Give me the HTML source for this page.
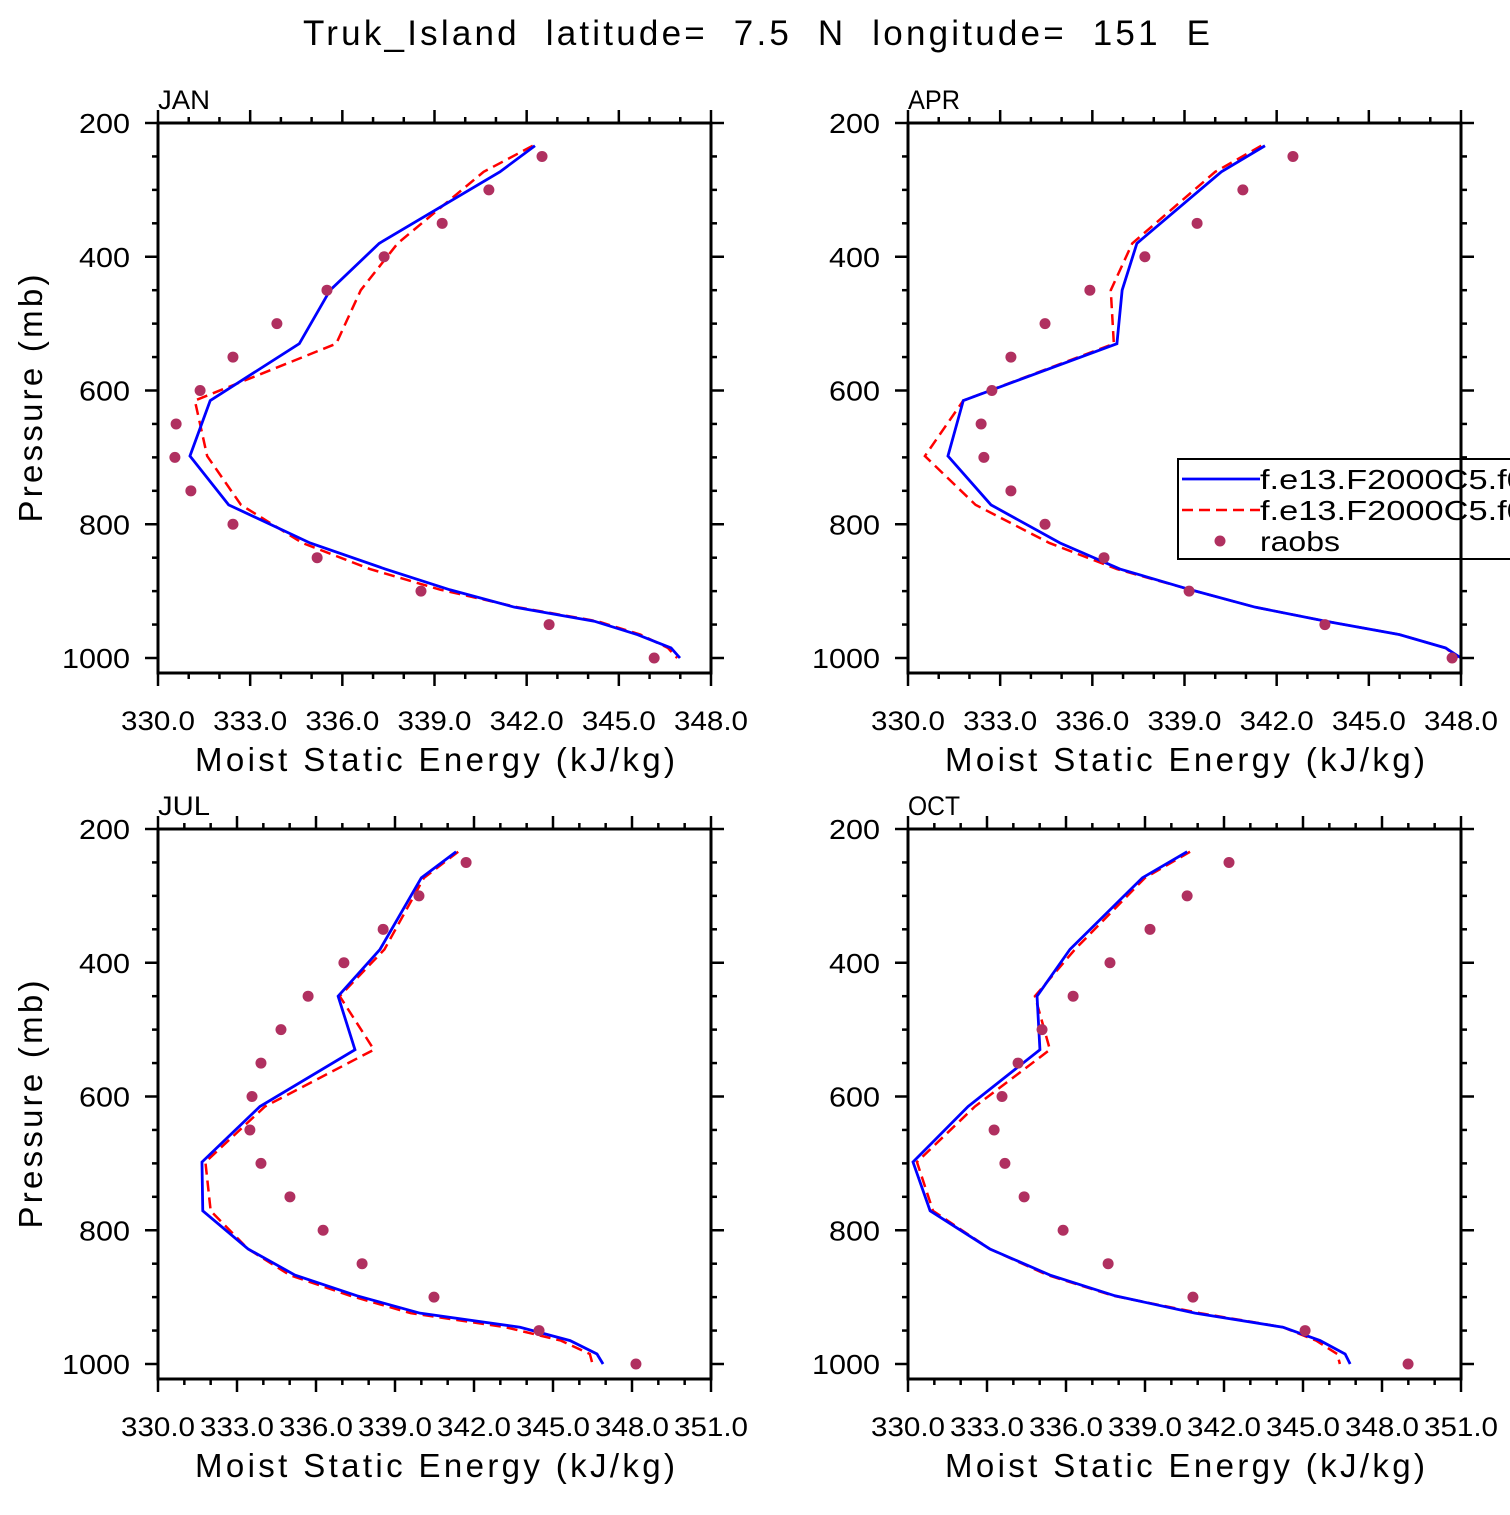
<!DOCTYPE html>
<html><head><meta charset="utf-8"><style>
html,body{margin:0;padding:0;background:#fff;}
svg text{font-family:"Liberation Sans","DejaVu Sans",sans-serif;fill:#000;}
</style></head><body>
<svg id="chart" width="1510" height="1510" viewBox="0 0 1510 1510" xmlns="http://www.w3.org/2000/svg">
<text x="303" y="45" font-size="35" textLength="907" lengthAdjust="spacing" xml:space="preserve">Truk_Island  latitude=  7.5  N  longitude=  151  E</text>
</svg>
<script>
const modelLevels=[234,273,380,450,530,615,698,771,828,867,898,924,945,965,985,1000];
const obsLevels=[250,300,350,400,450,500,550,600,650,700,750,800,850,900,950,1000];
const janBlue=[342.27,341.13,337.2,335.6,334.6,331.7,331.04,332.3,334.95,337.4,339.5,341.6,344.2,345.6,346.7,346.99];
const janRed=[342.2,340.6,337.8,336.6,335.8,331.2,331.6,332.7,334.7,336.9,339.2,341.7,344.3,345.7,346.6,346.9];
const janObs=[342.5,340.77,339.25,337.36,335.5,333.87,332.44,331.37,330.59,330.55,331.07,332.44,335.18,338.56,342.73,346.15];
const aprBlue=[341.62,340.2,337.45,336.97,336.8,331.8,331.3,332.7,334.95,336.9,339.2,341.3,343.6,346.0,347.5,348.0];
const aprRed=[341.5,340.0,337.3,336.6,336.7,331.8,330.55,332.2,334.6,336.8,339.2,341.3,343.6,346.0,347.5,347.9];
const aprObs=[342.53,340.9,339.41,337.71,335.92,334.46,333.35,332.73,332.38,332.47,333.35,334.46,336.38,339.15,343.57,347.71];
const julBlue=[341.32,340.0,338.43,336.84,337.48,333.87,331.67,331.7,333.42,335.2,337.56,339.95,343.75,345.65,346.67,346.9];
const julRed=[341.4,340.1,338.6,336.9,338.2,334.06,331.8,332.0,333.42,335.0,337.3,339.6,343.2,345.3,346.4,346.5];
const julObs=[341.7,339.91,338.55,337.06,335.7,334.67,333.91,333.57,333.49,333.91,335.01,336.27,337.75,340.48,344.47,348.15];
const octBlue=[340.6,338.9,336.15,334.9,335.01,332.28,330.19,330.84,333.11,335.39,337.86,340.9,344.24,345.65,346.6,346.79];
const octRed=[340.71,339.0,336.34,334.82,335.39,332.54,330.34,330.95,333.11,335.3,337.8,341.1,344.24,345.5,346.3,346.4];
const octObs=[342.19,340.6,339.19,337.67,336.27,335.09,334.18,333.57,333.27,333.68,334.41,335.89,337.6,340.82,345.08,348.99];
const pTicks=[200,400,600,800,1000];
const xTicksA=[330,333,336,339,342,345,348];
const xTicksB=[330,333,336,339,342,345,348,351];

const NS='http://www.w3.org/2000/svg';
const svg=document.getElementById('chart');
function mk(tag,attrs,parent){const e=document.createElementNS(NS,tag);for(const k in attrs)e.setAttribute(k,attrs[k]);(parent||svg).appendChild(e);return e;}

function panel(name,x0,y0,xmax,xTicks,blue,red,obs,isLeft){
  const W=553,yTop=y0,yBot=y0+550;
  const g=mk('g',{});
  
  
  const xs=v=>x0+(v-330)/(xmax-330)*W;
  const ys=p=>yTop+(p-200)*(535/800);
  const t=mk('text',{x:x0,y:yTop-14,'font-size':27,textLength:52,lengthAdjust:'spacingAndGlyphs'},g);t.textContent=name;
  
  for(let p=200;p<=1000;p+=50){
    const y=ys(p),maj=p%200===0,L=maj?13:6;
    mk('line',{x1:x0-L,y1:y,x2:x0,y2:y,stroke:'#000','stroke-width':2.5},g);
    mk('line',{x1:x0+W,y1:y,x2:x0+W+L,y2:y,stroke:'#000','stroke-width':2.5},g);
  }
  pTicks.forEach(p=>{const s=String(p);const tt=mk('text',{x:x0-28,y:ys(p)+10,'font-size':28,'text-anchor':'end',textLength:s.length*17,lengthAdjust:'spacingAndGlyphs'},g);tt.textContent=s;
    });
  for(let v=330;v<=xmax;v+=1){
    const x=xs(v),maj=(v-330)%3===0,L=maj?13:6;
    mk('line',{x1:x,y1:yBot,x2:x,y2:yBot+L,stroke:'#000','stroke-width':2.5},g);
    mk('line',{x1:x,y1:yTop-L,x2:x,y2:yTop,stroke:'#000','stroke-width':2.5},g);
  }
  xTicks.forEach(v=>{const tt=mk('text',{x:xs(v),y:yBot+57,'font-size':27,'text-anchor':'middle',textLength:74,lengthAdjust:'spacingAndGlyphs'},g);tt.textContent=v.toFixed(1);
    });
  const xl=mk('text',{x:x0+37,y:yBot+98,'font-size':33,textLength:480,lengthAdjust:'spacing'},g);xl.textContent='Moist Static Energy (kJ/kg)';
  
  if(isLeft){const yl=mk('text',{x:-124,y:0,'font-size':33,textLength:248,lengthAdjust:'spacing',transform:`translate(42,${ys(600)+8}) rotate(-90)`},g);yl.textContent='Pressure (mb)';
    }
  const bp=blue.map((v,i)=>xs(v)+','+ys(modelLevels[i])).join(' ');
  const rp=red.map((v,i)=>xs(v)+','+ys(modelLevels[i])).join(' ');
  const rl=mk('polyline',{points:rp,fill:'none',stroke:'#f00','stroke-width':2.5,'stroke-dasharray':'11,6'},g);
  
  const bl=mk('polyline',{points:bp,fill:'none',stroke:'#00f','stroke-width':2.8},g);
  
  obs.forEach((v,i)=>{const c=mk('circle',{cx:xs(v),cy:ys(obsLevels[i]),r:5.5,fill:'#b03060'},g);
    });
  mk('rect',{x:x0,y:yTop,width:W,height:yBot-yTop,fill:'none',stroke:'#000','stroke-width':3},g);
}
panel('JAN',158,123,348,xTicksA,janBlue,janRed,janObs,true);
panel('APR',908,123,348,xTicksA,aprBlue,aprRed,aprObs,false);
panel('JUL',158,829,351,xTicksB,julBlue,julRed,julObs,true);
panel('OCT',908,829,351,xTicksB,octBlue,octRed,octObs,false);

const lg=mk('g',{});


mk('rect',{x:1178,y:459,width:340,height:100,fill:'#fff',stroke:'#000','stroke-width':2},lg);
mk('line',{x1:1182,y1:479,x2:1260,y2:479,stroke:'#00f','stroke-width':2.8},lg);
mk('line',{x1:1182,y1:510,x2:1260,y2:510,stroke:'#f00','stroke-width':2.5,'stroke-dasharray':'11,6'},lg);
mk('circle',{cx:1220,cy:541,r:5.5,fill:'#b03060'},lg);
[['f.e13.F2000C5.f09',489,'legend-entry-blue',285],['f.e13.F2000C5.f09',520,'legend-entry-red',285],['raobs',551,'legend-entry-raobs',80]].forEach(d=>{
  const t=mk('text',{x:1260,y:d[1],'font-size':28,textLength:d[3],lengthAdjust:'spacingAndGlyphs'},lg);t.textContent=d[0];
  });
mk('line',{x1:1461,y1:459,x2:1461,y2:559,stroke:'#000','stroke-width':3},lg);
</script>
</body></html>
